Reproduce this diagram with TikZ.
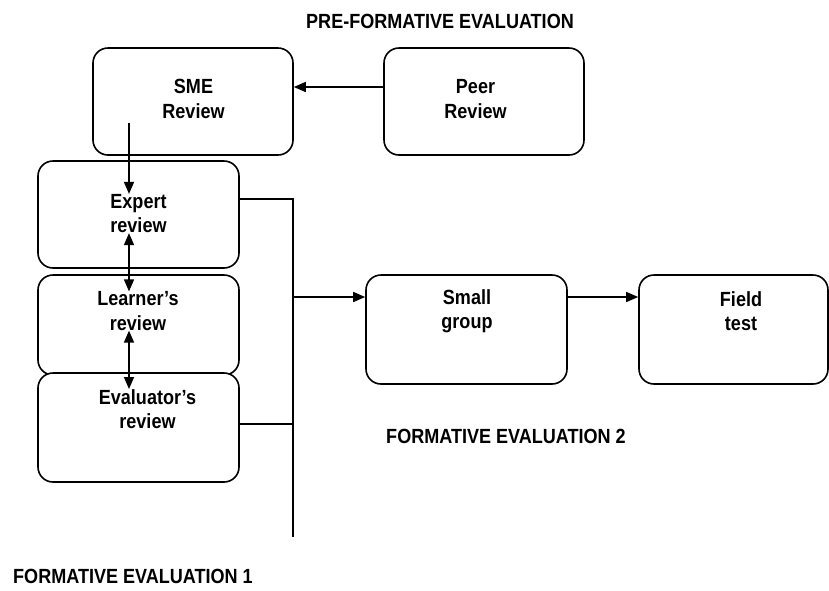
\documentclass[tikz,border=0pt]{standalone}
\usepackage{fontspec}
\setmainfont{Liberation Sans}[FakeStretch=0.88]
\usetikzlibrary{arrows.meta}
\begin{document}
\begin{tikzpicture}[x=1pt,y=-1pt,
  box/.style={draw=black, line width=1.6pt, rounded corners=15pt, minimum width=200pt, inner sep=0pt},
  txt/.style={align=center, font=\fontsize{20.5}{24.5}\selectfont\bfseries, inner sep=0pt},
  lbl/.style={font=\fontsize{20.5}{24}\selectfont\bfseries, inner sep=0pt, anchor=base},
  conn/.style={line width=1.5pt},
  arr/.style={line width=1.5pt, -{Triangle[length=12pt,width=10pt]}},
  darr/.style={line width=1.5pt, {Triangle[length=12pt,width=10pt]}-{Triangle[length=12pt,width=10pt]}}]
\useasboundingbox (0,0) rectangle (829,590);
% boxes
\node[box, minimum height=107pt] (sme) at (193,101.5) {};
\node[box, minimum height=107pt] (peer) at (484,101.5) {};
\node[box, minimum height=107pt, minimum width=201pt] (exp) at (138.5,214.5) {};
\node[box, minimum height=100pt, minimum width=201pt] (lrn) at (138.5,325) {};
\node[box, fill=white, minimum height=109pt, minimum width=201pt] (evl) at (138.5,427.5) {};
\node[box, minimum height=109pt, minimum width=201pt] (sg) at (466.5,329.5) {};
\node[box, minimum height=109pt, minimum width=189pt] (ft) at (733.5,329.5) {};
% texts
\node[txt] (smet) at (193.5,99) {SME\\Review};
\node[txt] (peert) at (475.5,99) {Peer\\Review};
\node[txt] (expt) at (138.5,213.5) {Expert\\review};
\node[txt] (lrnt) at (138,311) {Learner’s\\review};
\node[txt] (evlt) at (147.5,409) {Evaluator’s\\review};
\node[txt] (sgt) at (467,311) {Small\\group};
\node[txt] (ftt) at (741,311) {Field\\test};
% labels
\node[lbl] (l0) at (440,28) {PRE-FORMATIVE EVALUATION};
\node[lbl] (l2) at (506,443) {FORMATIVE EVALUATION 2};
\node[lbl, anchor=base west] (l1) at (13,583) {FORMATIVE EVALUATION 1};
% connectors
\coordinate (ax) at (129,0);
\coordinate (smeb) at (129,123);
\draw[arr] (peer.west |- 0,87) -- (sme.east |- 0,87);
\draw[arr] (smeb) -- (ax |- expt.north);
\draw[darr] (ax |- expt.south) -- (ax |- lrnt.north);
\draw[darr] (ax |- lrnt.south) -- (ax |- evlt.north);
\coordinate (bt) at (293,199);
\coordinate (bb) at (293,537);
\coordinate (bm) at (293,297);
\coordinate (be) at (293,424);
\draw[conn] (exp.east |- bt) -- (bt) -- (bb);
\draw[conn] (evl.east |- be) -- (be);
\draw[arr] (bm) -- (sg.west |- bm);
\draw[arr] (sg.east |- bm) -- (ft.west |- bm);
\end{tikzpicture}
\end{document}
